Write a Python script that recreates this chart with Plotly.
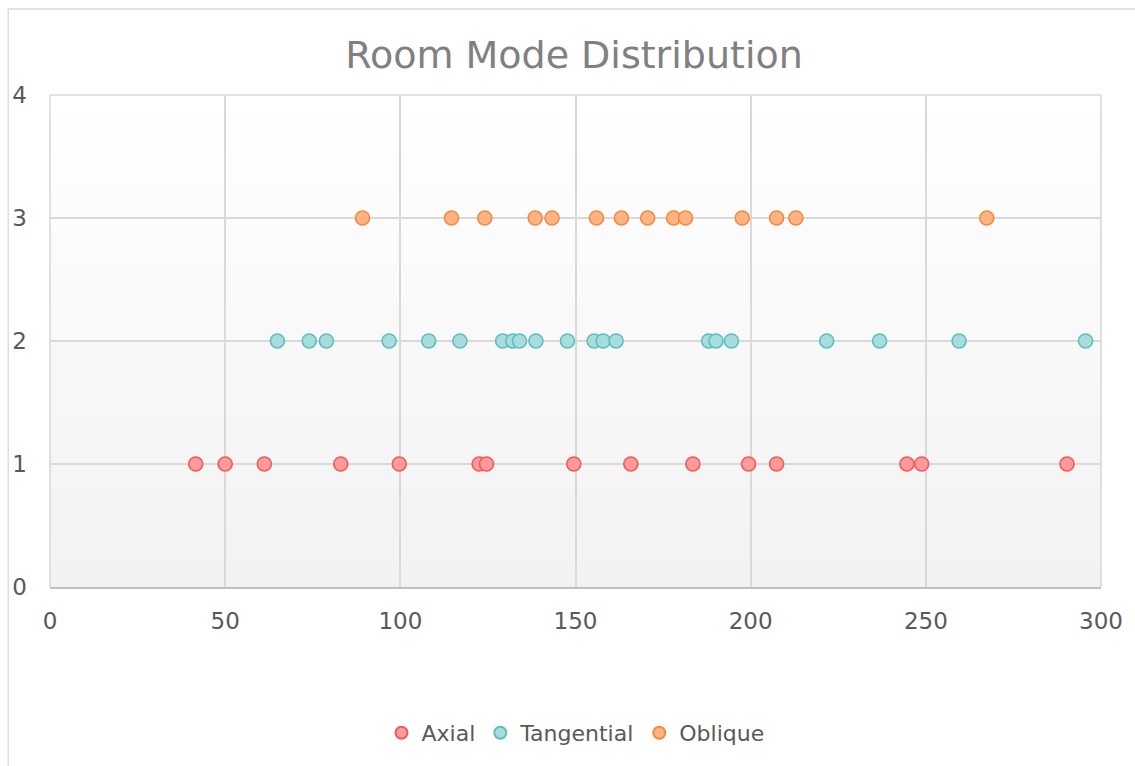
import base64, struct, zlib
import plotly.graph_objects as go

# ---- data ----
axial_freq = [41.6, 50.0, 61.2, 83.0, 99.7, 122.5, 124.6, 149.5, 165.8, 183.5,
              199.4, 207.4, 244.6, 248.8, 290.3]
tangential_freq = [64.9, 74.0, 78.9, 96.8, 108.1, 117.0, 129.2, 132.1, 134.0, 138.7,
                   147.7, 155.3, 157.9, 161.6, 188.0, 190.1, 194.5, 221.7, 236.8,
                   259.5, 295.6]
oblique_freq = [89.2, 114.6, 124.1, 138.5, 143.3, 156.0, 163.1, 170.6, 178.0, 181.4,
                197.6, 207.4, 212.9, 267.4]
axial_level = 1
tangential_level = 2
oblique_level = 3

series_names = ["Axial", "Tangential", "Oblique"]
x_ticks = [0, 50, 100, 150, 200, 250, 300]
y_ticks = [0, 1, 2, 3, 4]
title_text = "Room Mode Distribution"

# ---- styles ----
fills = ["#ff9a9a", "#a9dcdc", "#ffb383"]
edges = ["#ef5a5a", "#5bbfbf", "#f38b3e"]
FONT = "DejaVu Sans"


def gradient_png(top=(255, 255, 255), bottom=(242, 242, 242), h=256, w=4):
    rows = b""
    for i in range(h):
        t = i / (h - 1)
        c = bytes(int(round(top[k] + (bottom[k] - top[k]) * t)) for k in range(3))
        rows += b"\x00" + c * w

    def chunk(tag, data):
        return struct.pack(">I", len(data)) + tag + data + struct.pack(">I", zlib.crc32(tag + data) & 0xffffffff)

    png = b"\x89PNG\r\n\x1a\n"
    png += chunk(b"IHDR", struct.pack(">IIBBBBB", w, h, 8, 2, 0, 0, 0))
    png += chunk(b"IDAT", zlib.compress(rows, 9))
    png += chunk(b"IEND", b"")
    return "data:image/png;base64," + base64.b64encode(png).decode()


fig = go.Figure()
series = [
    (axial_freq, axial_level),
    (tangential_freq, tangential_level),
    (oblique_freq, oblique_level),
]
for (xs, lvl), name, fc, ec in zip(series, series_names, fills, edges):
    fig.add_trace(go.Scatter(
        x=xs, y=[lvl] * len(xs), mode="markers", name=name,
        marker=dict(size=14, color=fc, line=dict(color=ec, width=1.6)),
        cliponaxis=False,
    ))

W, H = 1135, 766
L, R, T, B = 49, 30, 95, 179
pw, ph = W - L - R, H - T - B
GRID = "#d9d9d9"

fig.update_layout(
    width=W, height=H,
    margin=dict(l=L, r=R, t=T, b=B),
    paper_bgcolor="white",
    plot_bgcolor="rgba(0,0,0,0)",
    font=dict(family=FONT, color="#595959", size=22),
    title=dict(text=title_text, x=(L + pw / 2 - 3) / W, xanchor="center",
               y=1 - 55 / H, yanchor="middle",
               font=dict(family=FONT, size=38, color="#808080")),
    showlegend=True,
    legend=dict(orientation="h", x=0.5, xanchor="center",
                y=(0 - (733 - (T + ph))) / ph, yanchor="middle",
                font=dict(family=FONT, size=22, color="#595959"),
                itemsizing="constant", tracegroupgap=0, itemwidth=30,
                bgcolor="rgba(0,0,0,0)"),
    xaxis=dict(range=[x_ticks[0], x_ticks[-1]], tickvals=x_ticks,
               showgrid=True, gridcolor=GRID, gridwidth=1.6,
               showline=True, linecolor="#bfbfbf", linewidth=1.6, mirror=False,
               zeroline=False, ticks="", ticklabelstandoff=13,
               tickfont=dict(family=FONT, size=23, color="#595959")),
    yaxis=dict(range=[y_ticks[0], y_ticks[-1]], tickvals=y_ticks,
               showgrid=True, gridcolor=GRID, gridwidth=1.6,
               showline=False, zeroline=False, ticks="", ticklabelstandoff=22,
               tickfont=dict(family=FONT, size=23, color="#595959")),
    images=[dict(source=gradient_png(), xref="paper", yref="paper",
                 x=0, y=1, sizex=1, sizey=1, sizing="stretch",
                 xanchor="left", yanchor="top", layer="below")],
    shapes=[
        dict(type="rect", xref="paper", yref="paper",
             x0=(7 - L) / pw, x1=(W + 20 - L) / pw,
             y0=(T + ph - (H + 20)) / ph, y1=(T + ph - 9) / ph,
             line=dict(color=GRID, width=1.3), fillcolor="rgba(0,0,0,0)",
             layer="below"),
        dict(type="line", xref="paper", yref="paper", x0=1, x1=1, y0=0, y1=1,
             line=dict(color=GRID, width=1.6), layer="below"),
        dict(type="line", xref="paper", yref="paper", x0=0, x1=1, y0=1, y1=1,
             line=dict(color=GRID, width=1.6), layer="below"),
        dict(type="line", xref="paper", yref="paper", x0=0, x1=0, y0=0, y1=1,
             line=dict(color=GRID, width=1.6), layer="below"),
    ],
)

fig.write_html("out.html",
               config={"displayModeBar": False},
               post_script="document.body.style.margin='0';document.body.style.overflow='hidden';")
